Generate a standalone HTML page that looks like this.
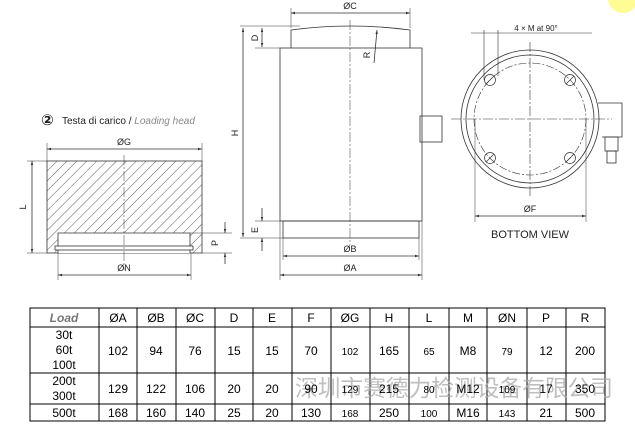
<!DOCTYPE html>
<html><head><meta charset="utf-8"><style>
html,body{margin:0;padding:0;background:#fff;width:635px;height:435px;overflow:hidden}
svg{display:block;font-family:"Liberation Sans",sans-serif}
</style></head><body>
<svg width="635" height="435" viewBox="0 0 635 435" xmlns="http://www.w3.org/2000/svg">
<defs>
<pattern id="h" width="7" height="7" patternUnits="userSpaceOnUse" patternTransform="rotate(45)">
<line x1="0" y1="0" x2="0" y2="7" stroke="#333" stroke-width="0.8"/></pattern>
<marker id="a" viewBox="0 0 10 10" refX="10" refY="5" markerWidth="7" markerHeight="5" orient="auto-start-reverse"><path d="M0,2 L10,5 L0,8z" fill="#333"/></marker>
</defs>
<circle cx="623" cy="-2" r="15" fill="#fffb95"/>
<g stroke="#333" stroke-width="0.8" fill="none">
<!-- loading head -->
<rect x="47" y="161" width="155" height="92" fill="url(#h)"/>
<rect x="58" y="233" width="132" height="20" fill="#fff" stroke="none"/>
<path d="M58,253 V233 H190 V253"/>
<rect x="55" y="246" width="138" height="4" fill="#fff"/>
<line x1="124" y1="155" x2="124" y2="270" stroke-dasharray="10,2,2,2" stroke-width="0.5"/>
<line x1="47" y1="149" x2="202" y2="149" marker-start="url(#a)" marker-end="url(#a)"/>
<line x1="47" y1="143" x2="47" y2="161" stroke-width="0.5"/><line x1="202" y1="143" x2="202" y2="161" stroke-width="0.5"/>
<line x1="32" y1="161" x2="32" y2="253" marker-start="url(#a)" marker-end="url(#a)"/>
<line x1="27" y1="161" x2="47" y2="161" stroke-width="0.5"/><line x1="27" y1="253" x2="47" y2="253" stroke-width="0.5"/>
<line x1="58" y1="253" x2="58" y2="280" stroke-width="0.5"/><line x1="191" y1="253" x2="191" y2="280" stroke-width="0.5"/>
<line x1="58" y1="275" x2="191" y2="275" marker-start="url(#a)" marker-end="url(#a)"/>
<line x1="190" y1="233" x2="232" y2="233" stroke-width="0.5"/><line x1="202" y1="253" x2="232" y2="253" stroke-width="0.5"/>
<line x1="225" y1="222" x2="225" y2="233" marker-end="url(#a)"/><line x1="225" y1="264" x2="225" y2="253" marker-end="url(#a)"/>
<!-- cylinder -->
<rect x="280" y="48" width="142" height="173"/>
<path d="M291,48 V30 Q350,22 410,30 V48"/>
<rect x="283" y="221" width="136" height="17"/>
<rect x="420" y="116" width="22" height="26"/>
<line x1="350" y1="20" x2="350" y2="245" stroke-dasharray="10,2,2,2" stroke-width="0.5"/>
<line x1="291" y1="13" x2="410" y2="13" marker-start="url(#a)" marker-end="url(#a)"/>
<line x1="291" y1="8" x2="291" y2="28" stroke-width="0.5"/><line x1="410" y1="8" x2="410" y2="28" stroke-width="0.5"/>
<line x1="240" y1="26" x2="300" y2="26" stroke-width="0.5"/><line x1="255" y1="48" x2="280" y2="48" stroke-width="0.5"/>
<line x1="240" y1="238" x2="283" y2="238" stroke-width="0.5"/><line x1="255" y1="221" x2="280" y2="221" stroke-width="0.5"/>
<line x1="243" y1="28" x2="243" y2="237" marker-start="url(#a)" marker-end="url(#a)"/>
<line x1="262" y1="28" x2="262" y2="47" marker-start="url(#a)" marker-end="url(#a)"/>
<line x1="262" y1="208" x2="262" y2="221" marker-end="url(#a)"/><line x1="262" y1="251" x2="262" y2="238" marker-end="url(#a)"/>
<line x1="374" y1="63" x2="377" y2="30" marker-end="url(#a)"/>
<line x1="283" y1="238" x2="283" y2="260" stroke-width="0.5"/><line x1="419" y1="238" x2="419" y2="260" stroke-width="0.5"/>
<line x1="280" y1="221" x2="280" y2="280" stroke-width="0.5"/><line x1="422" y1="221" x2="422" y2="280" stroke-width="0.5"/>
<line x1="283" y1="256" x2="419" y2="256" marker-start="url(#a)" marker-end="url(#a)"/>
<line x1="280" y1="275" x2="422" y2="275" marker-start="url(#a)" marker-end="url(#a)"/>
<!-- bottom view -->
<circle cx="530" cy="119" r="69"/><circle cx="530" cy="119" r="64"/>
<circle cx="530" cy="119" r="56" stroke-dasharray="8,2,2,2" stroke-width="0.6"/>
<line x1="451" y1="119" x2="612" y2="119" stroke-dasharray="10,2,2,2" stroke-width="0.6"/>
<line x1="530" y1="42" x2="530" y2="196" stroke-dasharray="10,2,2,2" stroke-width="0.6"/>
<g stroke-width="0.7"><circle cx="490" cy="80" r="5.5"/><circle cx="570" cy="80" r="5.5"/><circle cx="490" cy="158" r="5.5"/><circle cx="570" cy="158" r="5.5"/>
<line x1="486" y1="84" x2="494" y2="76"/><line x1="566" y1="84" x2="574" y2="76"/><line x1="486" y1="162" x2="494" y2="154"/><line x1="566" y1="162" x2="574" y2="154"/></g>
<path d="M598,103 H622 V137 H602"/>
<rect x="605" y="137" width="13" height="14"/><rect x="607" y="151" width="9" height="12"/>
<line x1="471" y1="33" x2="592" y2="33" stroke-width="0.6"/>
<line x1="484" y1="30" x2="484" y2="80" stroke-width="0.6"/><line x1="498" y1="30" x2="498" y2="76" stroke-width="0.6"/>
<line x1="475" y1="119" x2="475" y2="222" stroke-width="0.5"/><line x1="586" y1="119" x2="586" y2="222" stroke-width="0.5"/>
<line x1="475" y1="216" x2="586" y2="216" marker-start="url(#a)" marker-end="url(#a)"/>
</g>
<g fill="#222" font-size="9">
<text x="350" y="9" text-anchor="middle">ØC</text>
<text x="124" y="145" text-anchor="middle">ØG</text>
<text x="124" y="271" text-anchor="middle">ØN</text>
<text x="350" y="252" text-anchor="middle">ØB</text>
<text x="350" y="271" text-anchor="middle">ØA</text>
<text x="530" y="212" text-anchor="middle">ØF</text>
<text x="530" y="238" text-anchor="middle" font-size="11">BOTTOM VIEW</text>
<text x="536" y="31" text-anchor="middle" font-size="8">4 × M at 90°</text>
<text transform="translate(26,207) rotate(-90)" text-anchor="middle">L</text>
<text transform="translate(218,243) rotate(-90)" text-anchor="middle">P</text>
<text transform="translate(238,133) rotate(-90)" text-anchor="middle">H</text>
<text transform="translate(258,38) rotate(-90)" text-anchor="middle">D</text>
<text transform="translate(258,230) rotate(-90)" text-anchor="middle">E</text>
<text transform="translate(370,55) rotate(-90)" text-anchor="middle">R</text>
<text x="41" y="125" font-size="15" font-weight="bold" font-family="'DejaVu Sans',sans-serif">②</text>
<text x="62" y="124" font-size="10">Testa di carico / <tspan fill="#888" font-style="italic">Loading head</tspan></text>
</g>
<!-- table -->
<g stroke="#000" stroke-width="1" fill="none">
<rect x="30" y="308" width="575" height="113"/>
<line x1="30" y1="327" x2="605" y2="327"/><line x1="30" y1="373" x2="605" y2="373"/><line x1="30" y1="404" x2="605" y2="404"/>
<path d="M99,308V421M137,308V421M176,308V421M215,308V421M253,308V421M292,308V421M331,308V421M370,308V421M409,308V421M449,308V421M487,308V421M527,308V421M566,308V421"/>
</g>
<text x="295" y="396" textLength="318" lengthAdjust="spacingAndGlyphs" font-family="'Liberation Sans','Noto Sans CJK SC',sans-serif" font-size="23" fill="#aaa" fill-opacity="0.75">深圳市赛德力检测设备有限公司</text>
<g font-size="12" fill="#000" text-anchor="middle">
<text x="64" y="322" fill="#777" font-weight="bold" font-style="italic">Load</text>
<text x="118" y="322">ØA</text><text x="156" y="322">ØB</text><text x="195" y="322">ØC</text><text x="234" y="322">D</text><text x="272" y="322">E</text><text x="311" y="322">F</text><text x="350" y="322">ØG</text><text x="389" y="322">H</text><text x="429" y="322">L</text><text x="468" y="322">M</text><text x="507" y="322">ØN</text><text x="546" y="322">P</text><text x="585" y="322">R</text>
<text x="64" y="339">30t</text><text x="64" y="354">60t</text><text x="64" y="369">100t</text>
<text x="118" y="355">102</text><text x="156" y="355">94</text><text x="195" y="355">76</text><text x="234" y="355">15</text><text x="272" y="355">15</text><text x="311" y="355">70</text><text x="350" y="355" font-size="10">102</text><text x="389" y="355">165</text><text x="429" y="355" font-size="10">65</text><text x="468" y="355">M8</text><text x="507" y="355" font-size="10">79</text><text x="546" y="355">12</text><text x="585" y="355">200</text>
<text x="64" y="385">200t</text><text x="64" y="400">300t</text>
<text x="118" y="393">129</text><text x="156" y="393">122</text><text x="195" y="393">106</text><text x="234" y="393">20</text><text x="272" y="393">20</text><text x="311" y="393">90</text><text x="350" y="393" font-size="10">129</text><text x="389" y="393">215</text><text x="429" y="393" font-size="10">80</text><text x="468" y="393">M12</text><text x="507" y="393" font-size="10">109</text><text x="546" y="393">17</text><text x="585" y="393">350</text>
<text x="64" y="417">500t</text>
<text x="118" y="417">168</text><text x="156" y="417">160</text><text x="195" y="417">140</text><text x="234" y="417">25</text><text x="272" y="417">20</text><text x="311" y="417">130</text><text x="350" y="417" font-size="10">168</text><text x="389" y="417">250</text><text x="429" y="417" font-size="10">100</text><text x="468" y="417">M16</text><text x="507" y="417" font-size="10">143</text><text x="546" y="417">21</text><text x="585" y="417">500</text>
</g>
</svg>
</body></html>
